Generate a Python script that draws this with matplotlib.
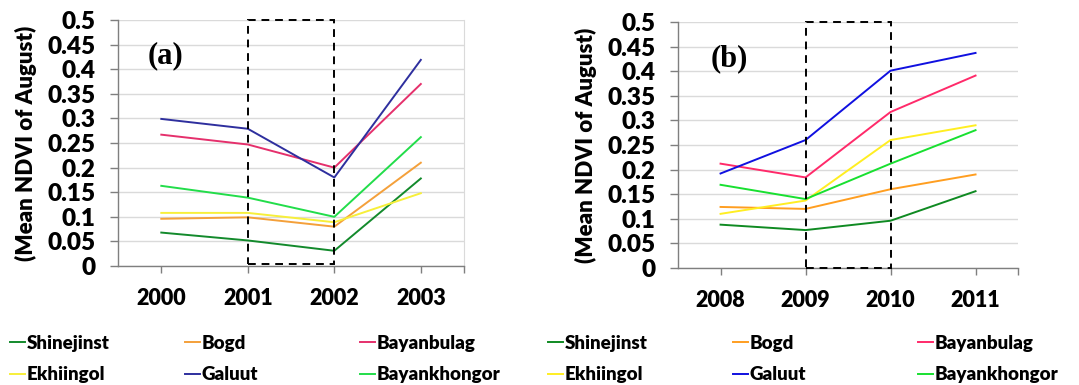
import matplotlib
matplotlib.use("Agg")
import matplotlib.pyplot as plt
from matplotlib.patches import Rectangle

years_a = ["2000", "2001", "2002", "2003"]
years_b = ["2008", "2009", "2010", "2011"]
sites = ["Shinejinst", "Bogd", "Bayanbulag", "Ekhiingol", "Galuut", "Bayankhongor"]

shinejinst_a = [0.068, 0.052, 0.031, 0.178]
bogd_a = [0.096, 0.099, 0.080, 0.210]
bayanbulag_a = [0.267, 0.247, 0.200, 0.370]
ekhiingol_a = [0.108, 0.108, 0.089, 0.148]
galuut_a = [0.299, 0.279, 0.180, 0.419]
bayankhongor_a = [0.163, 0.139, 0.100, 0.262]

shinejinst_b = [0.088, 0.077, 0.096, 0.156]
bogd_b = [0.124, 0.120, 0.160, 0.190]
bayanbulag_b = [0.212, 0.184, 0.317, 0.391]
ekhiingol_b = [0.110, 0.137, 0.260, 0.290]
galuut_b = [0.192, 0.260, 0.401, 0.437]
bayankhongor_b = [0.169, 0.140, 0.212, 0.280]

colors_a = ["#138a2c", "#f4a03a", "#e5306c", "#f7ef3a", "#2e2f9e", "#22dd4a"]
colors_b = ["#0f8a22", "#ff9e20", "#ff2a6a", "#ffee22", "#1010e0", "#18e030"]

FONT = "Lato"
W = "heavy"

fig = plt.figure(figsize=(10.79, 3.85), dpi=100)

def panel(rect, years, series, colors, label, label_xy, box_bottom, right_spine):
    ax = fig.add_axes(rect)
    x = list(range(len(years)))
    handles = []
    for name, vals, c in zip(sites, series, colors):
        h, = ax.plot(x, vals, color=c, lw=1.4, label=name, zorder=3)
        handles.append(h)
    ax.set_xlim(-0.5, 3.5)
    ax.set_ylim(0, 0.5)
    yt = [i * 0.05 for i in range(11)]
    ax.set_yticks(yt)
    ax.set_yticklabels(["0", "0.05", "0.1", "0.15", "0.2", "0.25", "0.3", "0.35", "0.4", "0.45", "0.5"])
    ax.set_xticks(x + [3.5])
    ax.set_xticklabels(years + [""])
    ax.grid(axis="y", color="#dadada", lw=1.0, zorder=0)
    ax.set_axisbelow(True)
    for s in ["left", "bottom"]:
        ax.spines[s].set_color("#7f7f7f")
        ax.spines[s].set_linewidth(1.0)
    ax.spines["top"].set_visible(False)
    if right_spine:
        ax.spines["right"].set_color("#dadada")
    else:
        ax.spines["right"].set_visible(False)
    ax.tick_params(axis="both", direction="out", color="#7f7f7f", width=1.0)
    ax.tick_params(axis="y", labelsize=17.5, pad=10, length=6)
    ax.tick_params(axis="x", labelsize=15.5, pad=11, length=5)
    for t in ax.get_yticklabels() + ax.get_xticklabels():
        t.set_fontfamily(FONT)
        t.set_fontweight(W)
    ax.set_ylabel("(Mean NDVI of August)", fontsize=16, fontweight=W, fontfamily=FONT, labelpad=8)
    rect_patch = Rectangle((1, box_bottom), 1, 0.5 - box_bottom, fill=False, ec="black",
                           lw=1.4, ls=(0, (4, 3)), zorder=5, clip_on=False)
    ax.add_patch(rect_patch)
    ax.text(label_xy[0], label_xy[1], label, transform=ax.transAxes, fontsize=22,
            fontweight="bold", fontfamily="Liberation Serif", ha="left", va="center")
    return ax, handles

ax_a, h_a = panel([0.1094, 0.309, 0.3207, 0.639], years_a,
                  [shinejinst_a, bogd_a, bayanbulag_a, ekhiingol_a, galuut_a, bayankhongor_a],
                  colors_a, "(a)", (0.085, 0.855), 0.005, True)
ax_b, h_b = panel([0.6284, 0.304, 0.3151, 0.639], years_b,
                  [shinejinst_b, bogd_b, bayanbulag_b, ekhiingol_b, galuut_b, bayankhongor_b],
                  colors_b, "(b)", (0.095, 0.85), 0.0, False)

def legends(handles, xs):
    groups = [(0, 3), (1, 4), (2, 5)]
    for (i, j), xpx in zip(groups, xs):
        fig.legend([handles[i], handles[j]], [sites[i], sites[j]],
                   loc="upper left", bbox_to_anchor=(xpx / 1079, 1 - 335 / 385),
                   frameon=False, handlelength=0.8, handletextpad=0.1,
                   labelspacing=0.75, borderpad=0, borderaxespad=0,
                   prop={"family": FONT, "weight": W, "size": 13.5})

legends(h_a, [10, 185, 360])
legends(h_b, [548, 733, 918])

fig.savefig("out.png", dpi=100)
